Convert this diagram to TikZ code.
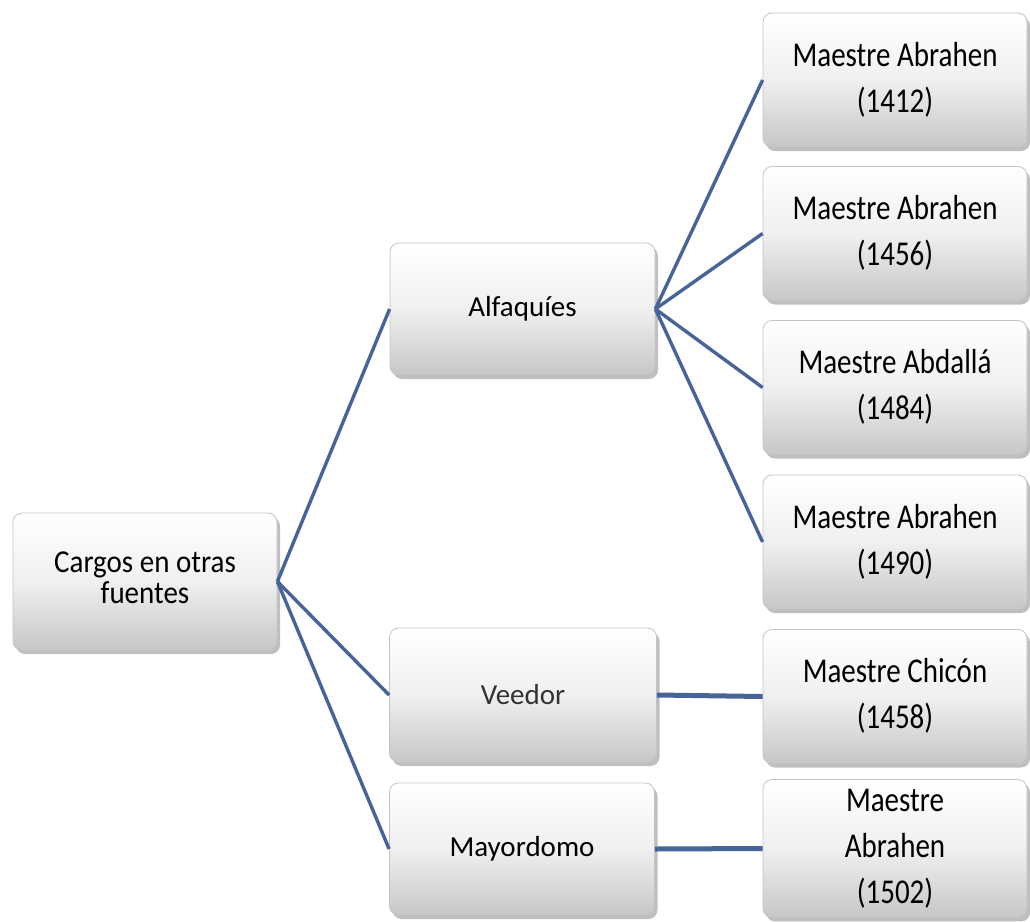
\documentclass[tikz,border=0pt]{standalone}
\usepackage{fontspec}
\usepackage{graphicx}
\setmainfont{Carlito}
\usetikzlibrary{shadows}

\definecolor{linkblue}{RGB}{70,100,152}
\definecolor{boxrim}{RGB}{196,196,196}

% centred lines of text, stretched upright by the factor in the optional argument
\newcommand{\tallstack}[2][1.2]{\scalebox{1}[#1]{\begin{tabular}{@{}c@{}}#2\end{tabular}}}

\tikzset{
  card/.style={
    rectangle, rounded corners=9pt, inner sep=0pt,
    minimum width=265pt, minimum height=134pt,
    top color=white, bottom color=black!22, middle color=black!6,
    draw=boxrim, line width=0.8pt,
    drop shadow={shadow xshift=3pt, shadow yshift=-4pt, opacity=0.5, fill=black!50},
    align=center,
    font=\fontsize{29}{38.3}\selectfont
  },
  link/.style={draw=linkblue, line width=3.4pt},
  barlink/.style={draw=linkblue, line width=5pt}
}

\begin{document}
\begin{tikzpicture}[x=1pt, y=-1pt]
  \useasboundingbox (0,0) rectangle (1030,921);

  % first level
  \node[card, minimum width=264pt, minimum height=137pt, font=\fontsize{29}{28.5}\selectfont] (root) at (145,581.5)
    {\tallstack[1.1]{Cargos en otras\\fuentes}};

  % second level
  \node[card, minimum height=132pt] (alf) at (522.5,309) {Alfaquíes};
  \node[card, minimum width=267pt, text=black!80] (vee) at (523,695) {Veedor};
  \node[card, minimum height=132pt] (may) at (522,849) {Mayordomo};

  % third level
  \node[card, minimum width=264pt] (r1) at (895,80)    {\tallstack{Maestre Abrahen\\(1412)}};
  \node[card, minimum width=264pt] (r2) at (895,233.5) {\tallstack{Maestre Abrahen\\(1456)}};
  \node[card, minimum width=264pt] (r3) at (895,387.5) {\tallstack{Maestre Abdallá\\(1484)}};
  \node[card, minimum width=264pt] (r4) at (895,542)   {\tallstack{Maestre Abrahen\\(1490)}};
  \node[card, minimum width=264pt] (r5) at (895,696.5) {\tallstack{Maestre Chicón\\(1458)}};
  \node[card, minimum width=264pt] (r6) at (895,848.5) {\tallstack{Maestre\\Abrahen\\(1502)}};

  % connectors
  \foreach \c in {alf,vee,may}
    \draw[link] (root.east) -- (\c.west);
  \foreach \c in {r1,r2,r3,r4}
    \draw[link] (alf.east) -- (\c.west);
  \draw[barlink] (vee.east) -- (r5.west);
  \draw[barlink] (may.east) -- (r6.west);
\end{tikzpicture}
\end{document}
